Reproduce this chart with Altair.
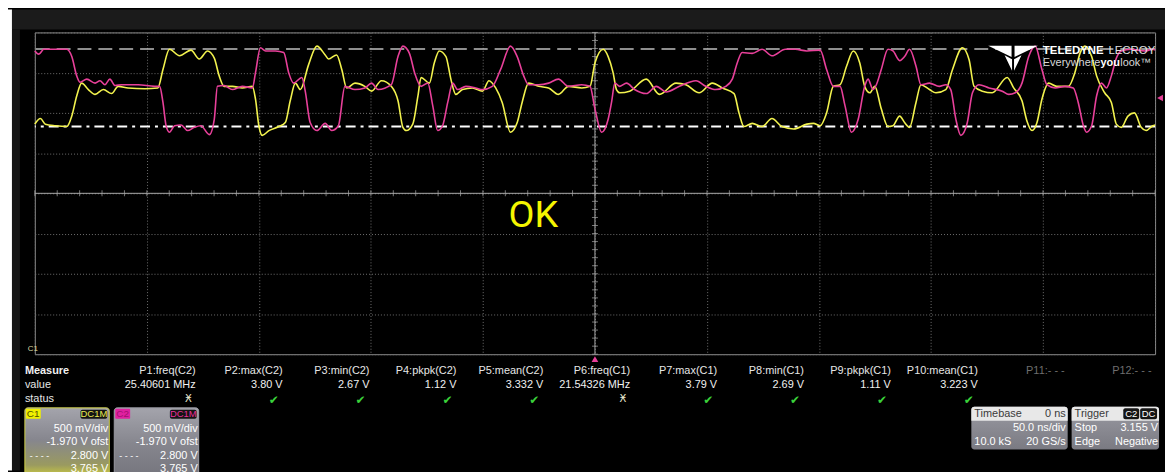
import altair as alt
import pandas as pd
import numpy as np

c1_t = [-250, -247.5, -245.3, -240.8, -235.7, -233.5, -231.3, -229.1, -226.1, -223.1,
        -219.4, -215.7, -212.8, -208.4, -200.9, -195.1, -192.8, -189.9, -185.4, -180.3,
        -176.6, -172.9, -169.9, -167.7, -165.5, -161.8, -157.4, -152.9, -151.5, -150.0,
        -148.5, -145.5, -141.1, -138.2, -136.0, -133.7, -131.5, -127.8, -124.1, -120.4,
        -118.9, -115.3, -113.0, -110.8, -107.1, -102.7, -99.7, -95.3, -90.9, -87.9,
        -85.7, -84.2, -81.3, -79.0, -77.6, -73.9, -71.7, -69.5, -66.5, -64.3,
        -62.1, -59.1, -54.7, -50.2, -47.3, -44.3, -41.4, -37.7, -34.7, -32.5,
        -29.6, -25.1, -20.7, -16.3, -11.8, -5.9, -2.2, 0.0, 3.7, 5.9,
        8.1, 9.6, 11.1, 15.5, 22.9, 28.8, 36.2, 40.6, 46.5, 52.4,
        56.9, 62.1, 64.3, 66.5, 70.2, 74.6, 79.0, 83.5, 88.7, 94.6,
        97.5, 100.5, 103.4, 106.4, 109.4, 112.3, 115.3, 118.2, 120.4, 122.7,
        124.9, 127.8, 130.8, 133.0, 136.0, 138.2, 140.4, 143.3, 145.5, 149.3,
        152.2, 156.6, 159.6, 164.0, 167.0, 169.2, 172.9, 177.3, 184.0, 186.9,
        190.6, 192.8, 195.1, 197.3, 199.5, 202.5, 206.1, 211.3, 214.2, 216.5,
        218.7, 221.7, 223.9, 227.5, 230.5, 232.7, 234.9, 237.9, 240.8, 243.8,
        246.0, 249.0, 250.0]
c1_v = [2.83, 2.90, 2.83, 2.81, 2.80, 2.93, 3.18, 3.34, 3.26, 3.20,
        3.26, 3.21, 3.30, 3.28, 3.27, 3.28, 3.51, 3.76, 3.68, 3.75,
        3.64, 3.74, 3.65, 3.43, 3.30, 3.30, 3.28, 3.30, 3.14, 2.81,
        2.69, 2.75, 2.80, 2.85, 3.12, 3.34, 3.26, 3.57, 3.80, 3.69,
        3.64, 3.69, 3.51, 3.28, 3.34, 3.30, 3.24, 3.37, 3.30, 3.12,
        2.79, 2.75, 2.83, 3.18, 3.41, 3.34, 3.59, 3.74, 3.67, 3.39,
        3.20, 3.26, 3.28, 3.24, 3.37, 3.28, 3.10, 2.73, 2.85, 3.10,
        3.34, 3.30, 3.28, 3.20, 3.30, 3.28, 3.30, 3.59, 3.76, 3.67,
        3.47, 3.26, 3.22, 3.24, 3.39, 3.20, 3.34, 3.32, 3.22, 3.34,
        3.28, 3.21, 2.97, 2.80, 2.84, 2.80, 2.90, 2.80, 2.77, 2.83,
        2.84, 2.81, 2.97, 3.30, 3.32, 3.55, 3.74, 3.59, 3.30, 3.22,
        3.30, 3.02, 2.80, 2.81, 2.93, 2.85, 2.79, 3.10, 3.32, 3.26,
        3.22, 3.26, 3.51, 3.78, 3.63, 3.30, 3.24, 3.22, 3.41, 3.28,
        3.12, 2.87, 2.75, 2.85, 3.14, 3.34, 3.30, 3.30, 3.47, 3.71,
        3.80, 3.67, 3.43, 3.22, 3.10, 2.83, 2.79, 2.93, 2.97, 2.79,
        2.75, 2.81, 2.82]

c2_t = [-250, -248.2, -246.0, -240.8, -235.7, -233.5, -231.3, -229.8, -226.8, -223.1,
        -220.9, -218.7, -216.5, -214.2, -211.3, -203.9, -196.5, -194.3, -192.8, -191.4,
        -189.9, -187.6, -184.7, -181.8, -178.8, -175.9, -172.1, -169.9, -168.5, -165.5,
        -161.8, -157.4, -152.9, -151.5, -149.3, -147.0, -142.6, -138.9, -136.7, -134.5,
        -130.8, -129.3, -127.1, -124.1, -120.4, -117.5, -114.5, -111.6, -107.1, -102.7,
        -99.7, -96.8, -90.9, -87.9, -85.7, -82.8, -80.5, -77.6, -74.6, -72.4,
        -70.2, -68.0, -65.7, -63.5, -61.3, -57.6, -53.2, -50.2, -45.8, -42.1,
        -37.7, -34.7, -31.8, -29.6, -25.1, -20.7, -16.3, -11.8, -5.9, -2.2,
        0.0, 3.0, 5.9, 7.4, 8.9, 11.1, 14.1, 17.7, 22.9, 27.4,
        31.8, 37.7, 45.1, 49.5, 53.9, 58.4, 61.3, 63.5, 65.7, 70.2,
        74.6, 79.0, 85.0, 89.4, 94.6, 100.5, 103.4, 106.4, 109.4, 111.6,
        114.5, 117.5, 120.4, 121.9, 124.1, 125.6, 127.8, 130.8, 133.0, 136.0,
        138.2, 140.4, 143.3, 145.5, 149.3, 153.7, 156.6, 158.8, 161.1, 163.3,
        166.2, 168.5, 171.4, 175.9, 181.8, 184.7, 187.6, 190.6, 193.6, 196.5,
        199.5, 201.7, 205.4, 209.8, 213.5, 215.7, 218.0, 219.4, 221.7, 223.9,
        226.1, 228.3, 230.5, 232.7, 234.9, 239.4, 245.3, 249.0, 250.0]
c2_v = [3.74, 3.70, 3.76, 3.76, 3.76, 3.67, 3.43, 3.35, 3.39, 3.34,
        3.37, 3.32, 3.39, 3.31, 3.32, 3.32, 3.30, 3.30, 3.10, 2.81,
        2.73, 2.81, 2.82, 2.75, 2.79, 2.81, 2.70, 2.89, 3.30, 3.31,
        3.26, 3.30, 3.28, 3.47, 3.78, 3.74, 3.74, 3.72, 3.47, 3.34,
        3.41, 3.24, 2.85, 2.75, 2.84, 2.75, 2.81, 3.30, 3.26, 3.28,
        3.34, 3.26, 3.32, 3.67, 3.80, 3.71, 3.47, 3.30, 3.34, 3.06,
        2.75, 2.81, 3.10, 3.34, 3.26, 3.30, 3.28, 3.26, 3.30, 3.51,
        3.80, 3.67, 3.43, 3.32, 3.32, 3.34, 3.39, 3.30, 3.32, 3.30,
        3.02, 2.73, 2.89, 3.10, 3.34, 3.30, 3.34, 3.26, 3.21, 3.30,
        3.23, 3.30, 3.37, 3.30, 3.26, 3.30, 3.39, 3.59, 3.72, 3.71,
        3.76, 3.68, 3.76, 3.76, 3.74, 3.75, 3.51, 3.30, 3.30, 3.06,
        2.73, 2.89, 3.30, 3.39, 3.26, 3.32, 3.51, 3.76, 3.74, 3.62,
        3.67, 3.76, 3.55, 3.32, 3.34, 3.30, 3.32, 3.26, 2.89, 2.69,
        2.85, 3.22, 3.32, 3.28, 3.24, 3.20, 3.22, 3.34, 3.67, 3.80,
        3.51, 3.32, 3.28, 3.30, 3.28, 3.10, 2.81, 2.73, 2.81, 3.18,
        3.34, 3.28, 3.43, 3.65, 3.74, 3.76, 3.74, 3.76, 3.75]

cursor_levels = [3.765, 2.800]
trigger_level = [3.155]
trigger_time = [0.0]

meas_names = ["P1:freq(C2)", "P2:max(C2)", "P3:min(C2)", "P4:pkpk(C2)", "P5:mean(C2)",
              "P6:freq(C1)", "P7:max(C1)", "P8:min(C1)", "P9:pkpk(C1)", "P10:mean(C1)",
              "P11:- - -", "P12:- - -"]
meas_values = ["25.40601 MHz", "3.80 V", "2.67 V", "1.12 V", "3.332 V",
               "21.54326 MHz", "3.79 V", "2.69 V", "1.11 V", "3.223 V", "", ""]
meas_status = ["warn", "ok", "ok", "ok", "ok", "warn", "ok", "ok", "ok", "ok", "", ""]

ch_names = ["C1", "C2"]
ch_coupling = ["DC1M", "DC1M"]
ch_vdiv = ["500 mV/div", "500 mV/div"]
ch_offset = ["-1.970 V ofst", "-1.970 V ofst"]
ch_cur1 = ["2.800 V", "2.800 V"]
ch_cur2 = ["3.765 V", "3.765 V"]

tb_delay, tb_div, tb_samples, tb_rate = "0 ns", "50.0 ns/div", "10.0 kS", "20 GS/s"
trig_src, trig_cpl, trig_mode, trig_lvl, trig_type, trig_slope = "C2", "DC", "Stop", "3.155 V", "Edge", "Negative"

# ---------------- styling ----------------
YEL = "#f2f24e"
MAG = "#e8409a"
UI = "Liberation Sans"
ONE = pd.DataFrame({"k": [0]})

grid_t = [-250 + 50 * k for k in range(11)]
grid_v = [round(-0.03 + 0.5 * k, 2) for k in range(9)]
xs = alt.Scale(domain=[-250, 250], nice=False, zero=False)
ys = alt.Scale(domain=[-0.03, 3.97], nice=False, zero=False)
xa = alt.Axis(values=grid_t, grid=True, labels=False, ticks=False, domain=False, title=None,
              gridColor="#707070", gridDash=[1, 2], gridWidth=1)
ya = alt.Axis(values=grid_v, grid=True, labels=False, ticks=False, domain=False, title=None,
              gridColor="#707070", gridDash=[1, 2], gridWidth=1)


def X(f):
    return alt.X(f"{f}:Q", scale=xs, axis=xa)


def Y(f):
    return alt.Y(f"{f}:Q", scale=ys, axis=ya)


def txt(s, x, y, align="left", color="#e6e6e6", size=11, weight="normal", font=UI):
    return alt.Chart(ONE).mark_text(text=s, align=align, baseline="middle", color=color,
                                    fontSize=size, fontWeight=weight, font=font).encode(
        x=alt.value(x), y=alt.value(y))


def rect(x, y, x2, y2, fill, stroke=None, radius=0, sw=1, **kw):
    props = dict(fill=fill, cornerRadius=radius, **kw)
    if stroke:
        props.update(stroke=stroke, strokeWidth=sw)
    else:
        props.update(strokeWidth=0)
    return alt.Chart(ONE).mark_rect(**props).encode(
        x=alt.value(x), x2=alt.value(x2), y=alt.value(y), y2=alt.value(y2))


def grad(stops):
    return alt.LinearGradient(gradient="linear",
                              stops=[alt.GradientStop(color=c, offset=o) for o, c in stops],
                              x1=0, x2=0, y1=0, y2=1)


layers = []
# screen frame
layers.append(rect(-27, -23, -23, 441, "#ffffff"))
layers.append(rect(-23, -23, 1138, -3, "#1b1b1b"))
layers.append(rect(-23, -3, -15, 441, "#141414"))

# centre graticule lines and minor ticks
layers.append(alt.Chart(pd.DataFrame({"t": [0.0]})).mark_rule(color="#a8a8a8", strokeWidth=1).encode(x=X("t")))
layers.append(alt.Chart(pd.DataFrame({"v": [1.97]})).mark_rule(color="#a8a8a8", strokeWidth=1).encode(y=Y("v")))
xt = pd.DataFrame({"t": np.arange(-250, 251, 10.0), "v": 1.97})
yt = pd.DataFrame({"t": 0.0, "v": np.round(np.arange(-0.03, 3.98, 0.1), 3)})
layers.append(alt.Chart(xt).mark_tick(orient="vertical", size=6, thickness=1, color="#a8a8a8").encode(x=X("t"), y=Y("v")))
layers.append(alt.Chart(yt).mark_tick(orient="horizontal", size=6, thickness=1, color="#a8a8a8").encode(x=X("t"), y=Y("v")))

# cursors
layers.append(alt.Chart(pd.DataFrame({"v": [cursor_levels[0]]})).mark_rule(
    color="#bdbdbd", strokeWidth=1.6, strokeDash=[14, 7]).encode(y=Y("v")))
layers.append(alt.Chart(pd.DataFrame({"v": [cursor_levels[1]]})).mark_rule(
    color="#ffffff", strokeWidth=2, strokeDash=[10, 5, 3, 5]).encode(y=Y("v")))

# traces
traces = pd.concat([
    pd.DataFrame({"t": c1_t, "v": c1_v, "ch": "C1"}),
    pd.DataFrame({"t": c2_t, "v": c2_v, "ch": "C2"}),
])
layers.append(alt.Chart(traces).mark_line(interpolate="monotone", strokeWidth=1.6).encode(
    x=X("t"), y=Y("v"),
    color=alt.Color("ch:N", scale=alt.Scale(domain=["C1", "C2"], range=[YEL, MAG]), legend=None)))

# trigger markers
layers.append(alt.Chart(pd.DataFrame({"t": trigger_time})).mark_point(
    shape="triangle-up", filled=True, size=45, color=MAG, opacity=1).encode(x=X("t"), y=alt.value(329)))
layers.append(alt.Chart(pd.DataFrame({"v": trigger_level})).mark_point(
    shape="triangle-left", filled=True, size=45, color=MAG, opacity=1).encode(x=alt.value(1133), y=Y("v")))

# logo
logo_path = ("M-1,-0.5 L-0.06,-0.5 L-0.06,-0.05 Z M1,-0.5 L0.06,-0.5 L0.06,-0.05 Z "
             "M-0.34,-0.12 L-0.04,0.04 L-0.04,0.5 Z M0.34,-0.12 L0.04,0.04 L0.04,0.5 Z")
layers.append(alt.Chart(ONE).mark_point(shape=logo_path, filled=True, color="#ffffff", opacity=1,
                                        size=2500, strokeWidth=0).encode(x=alt.value(985), y=alt.value(26)))
layers.append(txt("TELEDYNE", 1015, 19, weight="bold", color="#ffffff", size=11.5))
layers.append(txt("LECROY", 1081, 19, color="#e0e0e0", size=11.5))
layers.append(txt("Everywhere", 1015, 31, color="#d8d8d8", size=11))
layers.append(txt("you", 1073, 31, color="#ffffff", size=11, weight="bold"))
layers.append(txt("look\u2122", 1093, 31, color="#d8d8d8", size=11))

# OK annotation
layers.append(txt("OK", 502, 185, align="center", color="#f5f500", size=38, font="Roboto"))

# C1 ground label
layers.append(txt("C1", -7, 319, color="#d8d8a0", size=8))

# measurement table
layers.append(txt("Measure", -10, 341, color="#f0f0f0", weight="bold"))
layers.append(txt("value", -10, 355, color="#e6e6e6"))
layers.append(txt("status", -10, 369, color="#e6e6e6"))
for i in range(len(meas_names)):
    xr = 162 + 87.5 * i
    col = "#6e6e6e" if meas_values[i] == "" else "#e6e6e6"
    layers.append(txt(meas_names[i], xr, 341, align="right", color=col))
    if meas_values[i]:
        layers.append(txt(meas_values[i], xr, 355, align="right", color="#f0f0f0"))
    if meas_status[i] == "ok":
        layers.append(txt("\u2714", xr - 4, 370, align="right", color="#3ad13a", size=12, font="DejaVu Sans"))
    elif meas_status[i] == "warn":
        layers.append(txt("\u04FE", xr - 4, 369, align="right", color="#e8e8d0", size=10, font="DejaVu Sans"))

# channel boxes
box_fill = [
    grad([(0, "#a4a4ac"), (0.45, "#86868e"), (0.8, "#9a9a60"), (1, "#d8d838")]),
    grad([(0, "#a4a4ac"), (0.5, "#86868e"), (1, "#74747c")]),
]
box_stroke = ["#cfcf48", "#9a9aa2"]
lab_fill = ["#f0f000", "#e020a0"]
lab_text = ["#505000", "#a01070"]
cpl_text = ["#e8e850", "#e8309a"]
for k in range(2):
    x0 = -10 + 90 * k
    layers.append(rect(x0, 378, x0 + 85, 450, box_fill[k], stroke=box_stroke[k], radius=3))
    layers.append(rect(x0 + 1, 379, x0 + 16, 389, lab_fill[k], radius=1))
    layers.append(txt(ch_names[k], x0 + 2, 384, color=lab_text[k], size=10))
    layers.append(rect(x0 + 56, 380, x0 + 83, 389, "#141414", radius=2))
    layers.append(txt(ch_coupling[k], x0 + 69.5, 384.5, align="center", color=cpl_text[k], size=9.5))
    layers.append(txt(ch_vdiv[k], x0 + 84, 399, align="right", color="#ffffff", size=11))
    layers.append(txt(ch_offset[k], x0 + 84, 412, align="right", color="#ffffff", size=11))
    layers.append(txt("- - - -", x0 + 5, 427, color="#ffffff", size=9))
    layers.append(txt(ch_cur1[k], x0 + 84, 427, align="right", color="#ffffff", size=11))
    layers.append(txt(ch_cur2[k], x0 + 84, 440, align="right", color="#ffffff", size=11))

# timebase / trigger boxes
tb_grad = grad([(0, "#9a9aa2"), (1, "#7a7a82")])
layers.append(rect(943, 377, 1040, 420, tb_grad, radius=3))
layers.append(rect(943, 377, 1040, 391, "#e8e8e8", cornerRadiusTopLeft=3, cornerRadiusTopRight=3))
layers.append(txt("Timebase", 946, 384, color="#3a3a3a"))
layers.append(txt(tb_delay, 1038, 384, align="right", color="#3a3a3a"))
layers.append(txt(tb_div, 1038, 398, align="right", color="#ffffff"))
layers.append(txt(tb_samples, 946, 412, color="#ffffff"))
layers.append(txt(tb_rate, 1038, 412, align="right", color="#ffffff"))

layers.append(rect(1044, 377, 1132, 420, tb_grad, radius=3))
layers.append(rect(1044, 377, 1132, 391, "#e8e8e8", cornerRadiusTopLeft=3, cornerRadiusTopRight=3))
layers.append(txt("Trigger", 1047, 384, color="#3a3a3a"))
layers.append(rect(1096, 378.5, 1112, 389.5, "#151515", radius=2))
layers.append(txt(trig_src, 1104, 384, align="center", color="#ffffff", size=9.5))
layers.append(rect(1113, 378.5, 1130, 389.5, "#151515", radius=2))
layers.append(txt(trig_cpl, 1121.5, 384, align="center", color="#ffffff", size=9.5))
layers.append(txt(trig_mode, 1047, 398, color="#ffffff"))
layers.append(txt(trig_lvl, 1131, 398, align="right", color="#ffffff"))
layers.append(txt(trig_type, 1047, 412, color="#ffffff"))
layers.append(txt(trig_slope, 1131, 412, align="right", color="#ffffff"))

chart = alt.layer(*layers).properties(
    width=1128, height=324,
    padding={"left": 27, "top": 23, "right": 10, "bottom": 117},
    autosize=alt.AutoSizeParams(type="none"),
).configure(background="#000000").configure_view(stroke="#8c8c8c", strokeWidth=1)

chart.save("out.html", embed_options={"renderer": "svg", "actions": False})
